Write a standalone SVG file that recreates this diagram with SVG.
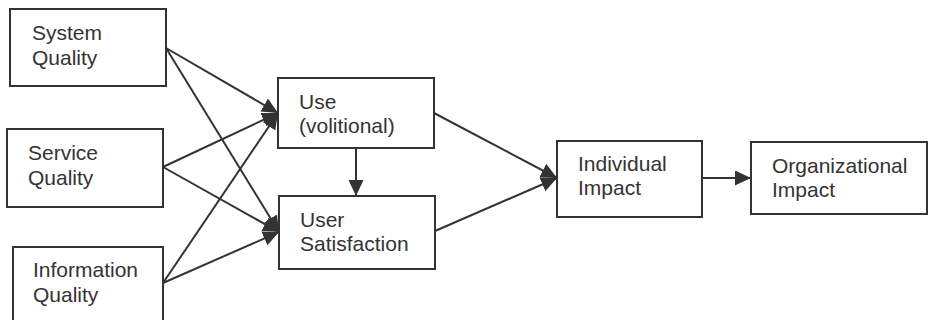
<svg xmlns="http://www.w3.org/2000/svg" width="928" height="320" viewBox="0 0 928 320">
  <style>
    .box { fill: #ffffff; stroke: #333333; stroke-width: 2; }
    .label { font-family: "Liberation Sans", Arial, sans-serif; font-size: 21px; fill: #333333; }
    .edge { stroke: #333333; stroke-width: 2; fill: none; marker-end: url(#arrow); }
  </style>
  <defs>
    <marker id="arrow" markerUnits="userSpaceOnUse" markerWidth="17" markerHeight="16" refX="16" refY="7.5" orient="auto">
      <path d="M0,0 L16,7.5 L0,15 z" fill="#333333"/>
    </marker>
  </defs>

  <rect width="928" height="320" fill="#ffffff"/>

  <g id="connectors">
    <line class="edge" x1="166" y1="48" x2="278" y2="113"/>
    <line class="edge" x1="166" y1="48" x2="279" y2="232"/>
    <line class="edge" x1="163" y1="167" x2="278" y2="113"/>
    <line class="edge" x1="163" y1="167" x2="279" y2="232"/>
    <line class="edge" x1="163" y1="283" x2="278" y2="113"/>
    <line class="edge" x1="163" y1="283" x2="279" y2="232"/>
    <line class="edge" x1="356" y1="148" x2="356" y2="196"/>
    <line class="edge" x1="434" y1="113" x2="557" y2="178"/>
    <line class="edge" x1="435" y1="231" x2="557" y2="178"/>
    <line class="edge" x1="702" y1="178" x2="751" y2="178"/>
  </g>

  <g id="system-quality">
    <rect class="box" x="10" y="9" width="156" height="77"/>
    <text class="label" x="32" y="40">System</text>
    <text class="label" x="32" y="65">Quality</text>
  </g>

  <g id="service-quality">
    <rect class="box" x="7" y="129" width="156" height="78"/>
    <text class="label" x="28" y="160">Service</text>
    <text class="label" x="28" y="185">Quality</text>
  </g>

  <g id="information-quality">
    <rect class="box" x="13" y="247" width="150" height="80"/>
    <text class="label" x="33" y="277">Information</text>
    <text class="label" x="33" y="302">Quality</text>
  </g>

  <g id="use">
    <rect class="box" x="278" y="78" width="156" height="70"/>
    <text class="label" x="299" y="109">Use</text>
    <text class="label" x="299" y="133">(volitional)</text>
  </g>

  <g id="user-satisfaction">
    <rect class="box" x="279" y="196" width="156" height="73"/>
    <text class="label" x="300" y="227">User</text>
    <text class="label" x="300" y="251">Satisfaction</text>
  </g>

  <g id="individual-impact">
    <rect class="box" x="557" y="141" width="145" height="76"/>
    <text class="label" x="578" y="171">Individual</text>
    <text class="label" x="578" y="195">Impact</text>
  </g>

  <g id="organizational-impact">
    <rect class="box" x="751" y="142" width="176" height="72"/>
    <text class="label" x="772" y="173">Organizational</text>
    <text class="label" x="772" y="197">Impact</text>
  </g>
</svg>
